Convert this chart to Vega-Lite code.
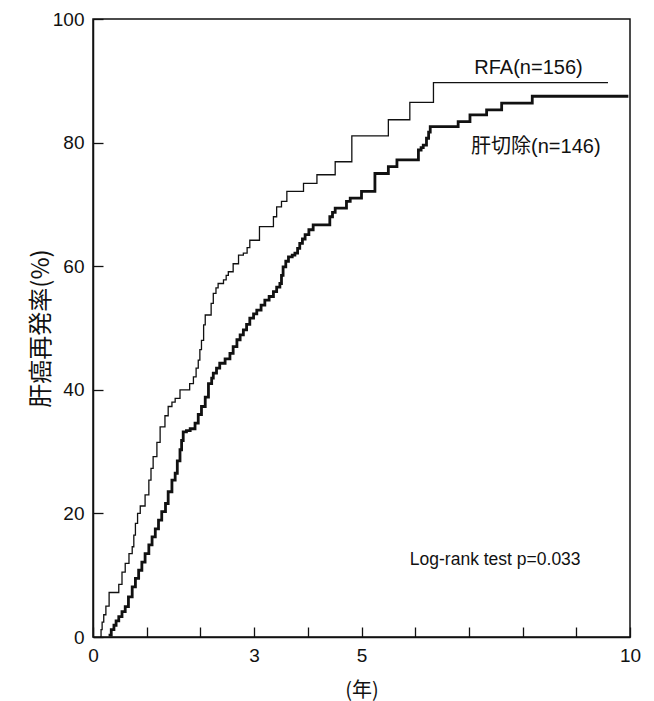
{
  "$schema": "https://vega.github.io/schema/vega-lite/v6.json",
  "autosize": {"type": "none"},
  "padding": {"left": 93, "top": 19, "right": 24, "bottom": 64},
  "width": 537,
  "height": 618,
  "background": "white",
  "config": {
    "view": {"stroke": "#111", "strokeWidth": 1.5},
    "font": "Liberation Sans, Noto Sans CJK JP",
    "axis": {
      "grid": false,
      "domainColor": "#111",
      "domainWidth": 1.5,
      "tickColor": "#111",
      "tickWidth": 1.3,
      "labelColor": "#111",
      "titleColor": "#111",
      "labelFont": "Liberation Sans",
      "titleFont": "Noto Sans CJK JP",
      "titleFontWeight": "normal"
    }
  },
  "data": {
    "values": [
      {"group": "note", "label": "RFA(n=156)"},
      {"group": "note", "label": "肝切除(n=146)"},
      {"group": "note", "label": "Log-rank test  p=0.033"},
      {"group": "RFA", "t": 0.13, "v": 0},
      {"group": "RFA", "t": 0.15, "v": 1.2},
      {"group": "RFA", "t": 0.17, "v": 2.4},
      {"group": "RFA", "t": 0.20, "v": 3.6},
      {"group": "RFA", "t": 0.24, "v": 5},
      {"group": "RFA", "t": 0.30, "v": 7.2},
      {"group": "RFA", "t": 0.48, "v": 8.5},
      {"group": "RFA", "t": 0.54, "v": 10.5},
      {"group": "RFA", "t": 0.60, "v": 11.9},
      {"group": "RFA", "t": 0.67, "v": 13.5},
      {"group": "RFA", "t": 0.73, "v": 14.6},
      {"group": "RFA", "t": 0.76, "v": 16.5},
      {"group": "RFA", "t": 0.79, "v": 18.4},
      {"group": "RFA", "t": 0.83, "v": 20},
      {"group": "RFA", "t": 0.88, "v": 21.2},
      {"group": "RFA", "t": 0.97, "v": 23},
      {"group": "RFA", "t": 1.04, "v": 25.4},
      {"group": "RFA", "t": 1.08, "v": 27.3},
      {"group": "RFA", "t": 1.12, "v": 29.2},
      {"group": "RFA", "t": 1.19, "v": 31.5},
      {"group": "RFA", "t": 1.25, "v": 34},
      {"group": "RFA", "t": 1.34, "v": 35.8},
      {"group": "RFA", "t": 1.40, "v": 37.3},
      {"group": "RFA", "t": 1.47, "v": 38},
      {"group": "RFA", "t": 1.53, "v": 38.6},
      {"group": "RFA", "t": 1.62, "v": 40},
      {"group": "RFA", "t": 1.80, "v": 41},
      {"group": "RFA", "t": 1.87, "v": 42.1},
      {"group": "RFA", "t": 1.92, "v": 43.5},
      {"group": "RFA", "t": 1.96, "v": 44.8},
      {"group": "RFA", "t": 1.99, "v": 46.5},
      {"group": "RFA", "t": 2.02, "v": 48},
      {"group": "RFA", "t": 2.06, "v": 50.5},
      {"group": "RFA", "t": 2.09, "v": 52.1},
      {"group": "RFA", "t": 2.20, "v": 54},
      {"group": "RFA", "t": 2.24, "v": 55.6},
      {"group": "RFA", "t": 2.29, "v": 56.5},
      {"group": "RFA", "t": 2.33, "v": 57.2},
      {"group": "RFA", "t": 2.43, "v": 57.8},
      {"group": "RFA", "t": 2.48, "v": 58.5},
      {"group": "RFA", "t": 2.52, "v": 59.1},
      {"group": "RFA", "t": 2.61, "v": 60.4},
      {"group": "RFA", "t": 2.71, "v": 61.8},
      {"group": "RFA", "t": 2.80, "v": 62.1},
      {"group": "RFA", "t": 2.87, "v": 63},
      {"group": "RFA", "t": 2.92, "v": 64.2},
      {"group": "RFA", "t": 3.10, "v": 66.4},
      {"group": "RFA", "t": 3.36, "v": 68},
      {"group": "RFA", "t": 3.42, "v": 69.6},
      {"group": "RFA", "t": 3.51, "v": 70.5},
      {"group": "RFA", "t": 3.61, "v": 72.1},
      {"group": "RFA", "t": 3.92, "v": 73.4},
      {"group": "RFA", "t": 4.17, "v": 74.8},
      {"group": "RFA", "t": 4.51, "v": 76.9},
      {"group": "RFA", "t": 4.82, "v": 81.1},
      {"group": "RFA", "t": 5.50, "v": 83.7},
      {"group": "RFA", "t": 5.90, "v": 86.5},
      {"group": "RFA", "t": 6.34, "v": 89.7},
      {"group": "RFA", "t": 9.59, "v": 89.7},
      {"group": "HR", "t": 0.29, "v": 0.3},
      {"group": "HR", "t": 0.34, "v": 1.2},
      {"group": "HR", "t": 0.39, "v": 1.9},
      {"group": "HR", "t": 0.43, "v": 2.6},
      {"group": "HR", "t": 0.48, "v": 3.3},
      {"group": "HR", "t": 0.54, "v": 4.1},
      {"group": "HR", "t": 0.60, "v": 4.9},
      {"group": "HR", "t": 0.66, "v": 6.5},
      {"group": "HR", "t": 0.73, "v": 8.1},
      {"group": "HR", "t": 0.79, "v": 9.5},
      {"group": "HR", "t": 0.85, "v": 10.8},
      {"group": "HR", "t": 0.91, "v": 12.1},
      {"group": "HR", "t": 0.97, "v": 13.5},
      {"group": "HR", "t": 1.04, "v": 14.9},
      {"group": "HR", "t": 1.10, "v": 16.2},
      {"group": "HR", "t": 1.16, "v": 17.5},
      {"group": "HR", "t": 1.22, "v": 18.9},
      {"group": "HR", "t": 1.28, "v": 20.3},
      {"group": "HR", "t": 1.35, "v": 21.6},
      {"group": "HR", "t": 1.40, "v": 23.5},
      {"group": "HR", "t": 1.47, "v": 25.4},
      {"group": "HR", "t": 1.53, "v": 26.5},
      {"group": "HR", "t": 1.57, "v": 28.5},
      {"group": "HR", "t": 1.62, "v": 30.3},
      {"group": "HR", "t": 1.65, "v": 31.8},
      {"group": "HR", "t": 1.68, "v": 33.2},
      {"group": "HR", "t": 1.74, "v": 33.4},
      {"group": "HR", "t": 1.81, "v": 33.7},
      {"group": "HR", "t": 1.90, "v": 34.6},
      {"group": "HR", "t": 1.96, "v": 36},
      {"group": "HR", "t": 2.02, "v": 37.3},
      {"group": "HR", "t": 2.09, "v": 38.8},
      {"group": "HR", "t": 2.15, "v": 41},
      {"group": "HR", "t": 2.21, "v": 41.9},
      {"group": "HR", "t": 2.24, "v": 42.7},
      {"group": "HR", "t": 2.30, "v": 43.5},
      {"group": "HR", "t": 2.36, "v": 44.3},
      {"group": "HR", "t": 2.46, "v": 45},
      {"group": "HR", "t": 2.55, "v": 45.9},
      {"group": "HR", "t": 2.61, "v": 47},
      {"group": "HR", "t": 2.68, "v": 48.1},
      {"group": "HR", "t": 2.74, "v": 48.9},
      {"group": "HR", "t": 2.80, "v": 49.7},
      {"group": "HR", "t": 2.86, "v": 50.6},
      {"group": "HR", "t": 2.92, "v": 51.6},
      {"group": "HR", "t": 2.99, "v": 52.3},
      {"group": "HR", "t": 3.05, "v": 52.9},
      {"group": "HR", "t": 3.13, "v": 53.7},
      {"group": "HR", "t": 3.20, "v": 54.5},
      {"group": "HR", "t": 3.28, "v": 55.1},
      {"group": "HR", "t": 3.36, "v": 55.9},
      {"group": "HR", "t": 3.42, "v": 56.6},
      {"group": "HR", "t": 3.48, "v": 57.2},
      {"group": "HR", "t": 3.51, "v": 58.5},
      {"group": "HR", "t": 3.54, "v": 59.9},
      {"group": "HR", "t": 3.59, "v": 60.8},
      {"group": "HR", "t": 3.64, "v": 61.5},
      {"group": "HR", "t": 3.71, "v": 61.8},
      {"group": "HR", "t": 3.76, "v": 62.1},
      {"group": "HR", "t": 3.81, "v": 62.9},
      {"group": "HR", "t": 3.85, "v": 63.7},
      {"group": "HR", "t": 3.90, "v": 64.4},
      {"group": "HR", "t": 3.95, "v": 65.1},
      {"group": "HR", "t": 4.02, "v": 65.9},
      {"group": "HR", "t": 4.10, "v": 66.7},
      {"group": "HR", "t": 4.41, "v": 68},
      {"group": "HR", "t": 4.46, "v": 68.7},
      {"group": "HR", "t": 4.51, "v": 69.4},
      {"group": "HR", "t": 4.72, "v": 70.5},
      {"group": "HR", "t": 4.79, "v": 71},
      {"group": "HR", "t": 5.00, "v": 72.1},
      {"group": "HR", "t": 5.25, "v": 75},
      {"group": "HR", "t": 5.50, "v": 76.1},
      {"group": "HR", "t": 5.66, "v": 77.2},
      {"group": "HR", "t": 6.06, "v": 78.8},
      {"group": "HR", "t": 6.11, "v": 79.2},
      {"group": "HR", "t": 6.15, "v": 79.6},
      {"group": "HR", "t": 6.21, "v": 80.7},
      {"group": "HR", "t": 6.25, "v": 81.7},
      {"group": "HR", "t": 6.28, "v": 82.6},
      {"group": "HR", "t": 6.80, "v": 83.4},
      {"group": "HR", "t": 7.02, "v": 84.5},
      {"group": "HR", "t": 7.33, "v": 85.3},
      {"group": "HR", "t": 7.61, "v": 86.4},
      {"group": "HR", "t": 8.18, "v": 87.5},
      {"group": "HR", "t": 9.97, "v": 87.5}
    ]
  },
  "layer": [
    {
      "transform": [{"filter": "datum.group === 'RFA'"}],
      "mark": {"type": "line", "interpolate": "step-after", "color": "#111", "strokeWidth": 1.3},
      "encoding": {
        "x": {
          "field": "t",
          "type": "quantitative",
          "scale": {"domain": [0, 10], "nice": false, "zero": false},
          "axis": {
            "values": [0, 1, 2, 3, 4, 5, 6, 7, 8, 9, 10],
            "labelExpr": "indexof([0, 3, 5, 10], datum.value) >= 0 ? datum.label : ''",
            "tickSize": -10,
            "labelPadding": 19,
            "labelFontSize": 19,
            "labelFlush": false,
            "title": "(年)",
            "titleFontSize": 20,
            "titlePadding": 15
          }
        },
        "y": {
          "field": "v",
          "type": "quantitative",
          "scale": {"domain": [0, 100], "nice": false},
          "axis": {
            "values": [0, 20, 40, 60, 80, 100],
            "tickSize": -10,
            "labelPadding": 19,
            "labelFontSize": 19,
            "labelFlush": false,
            "title": "肝癌再発率(%)",
            "titleFontSize": 24,
            "titlePadding": -1
          }
        }
      }
    },
    {
      "transform": [{"filter": "datum.group === 'HR'"}],
      "mark": {"type": "line", "interpolate": "step-after", "color": "#111", "strokeWidth": 2.8},
      "encoding": {
        "x": {"field": "t", "type": "quantitative"},
        "y": {"field": "v", "type": "quantitative"}
      }
    },
    {
      "transform": [{"filter": "datum.label === 'RFA(n=156)'"}],
      "mark": {"type": "text", "align": "left", "baseline": "middle", "fontSize": 20, "color": "#111", "font": "Liberation Sans, Noto Sans CJK JP"},
      "encoding": {"text": {"field": "label", "type": "nominal"}, "x": {"datum": 7.1, "type": "quantitative"}, "y": {"datum": 92.1, "type": "quantitative"}}
    },
    {
      "transform": [{"filter": "datum.label === '肝切除(n=146)'"}],
      "mark": {"type": "text", "align": "left", "baseline": "middle", "fontSize": 20, "color": "#111", "font": "Liberation Sans, Noto Sans CJK JP"},
      "encoding": {"text": {"field": "label", "type": "nominal"}, "x": {"datum": 7.04, "type": "quantitative"}, "y": {"datum": 79.3, "type": "quantitative"}}
    },
    {
      "transform": [{"filter": "datum.label === 'Log-rank test  p=0.033'"}],
      "mark": {"type": "text", "align": "left", "baseline": "middle", "fontSize": 17.5, "color": "#111", "font": "Liberation Sans"},
      "encoding": {"text": {"field": "label", "type": "nominal"}, "x": {"datum": 5.9, "type": "quantitative"}, "y": {"datum": 12.5, "type": "quantitative"}}
    }
  ]
}
